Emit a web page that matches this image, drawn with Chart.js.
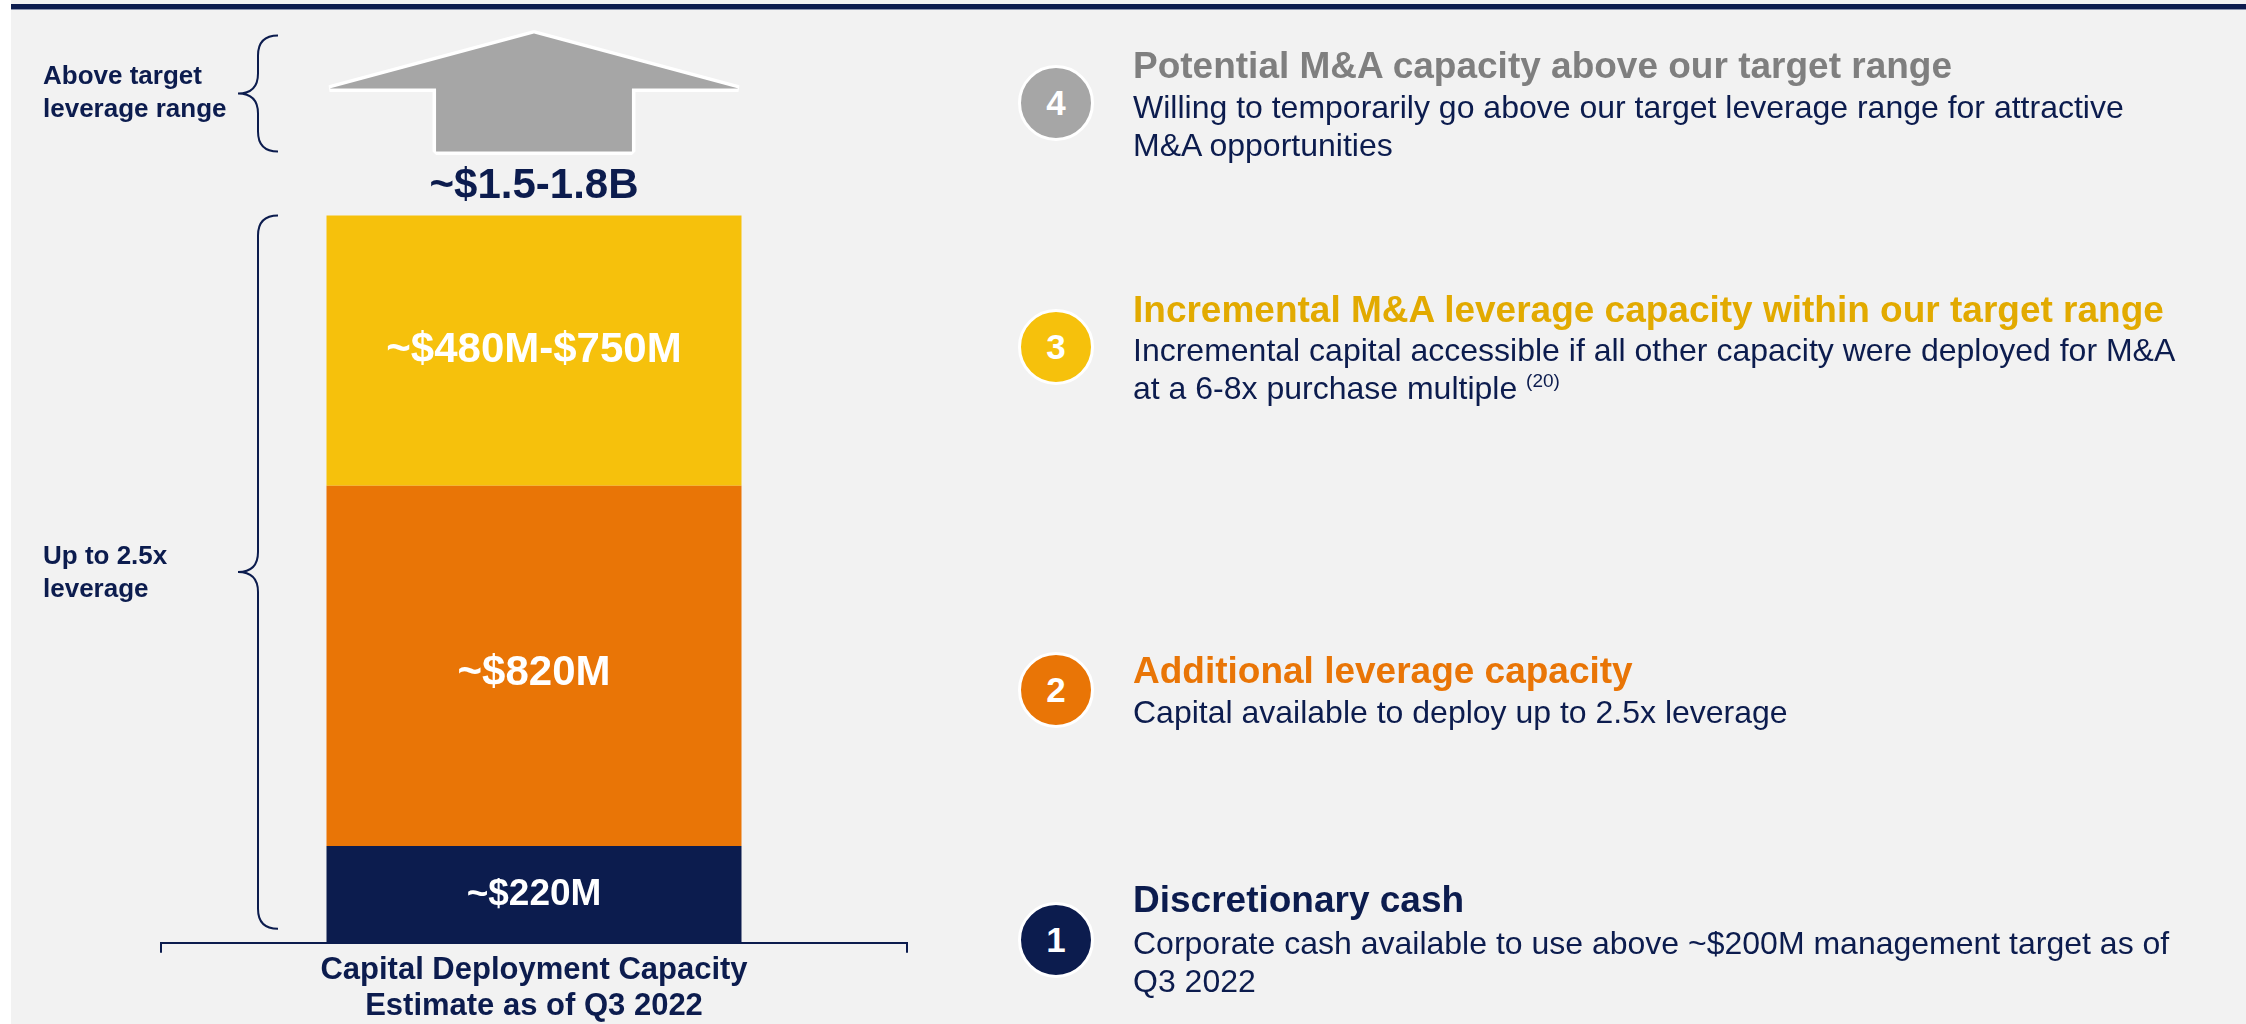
<!DOCTYPE html>
<html lang="en">
<head>
    <meta charset="UTF-8">
    <title>Capital Deployment Capacity</title>
    <script src="https://cdn.jsdelivr.net/npm/chart.js"></script>
    <style>
        body { margin: 0; background: #fff; font-family: "Liberation Sans", Arial, sans-serif; }
        #page { position: relative; width: 2246px; height: 1024px; overflow: hidden; }
        #panel { position: absolute; left: 11px; top: 0; width: 2235px; height: 1024px; background: #f2f2f2; }
        #rule { position: absolute; left: 11px; top: 4px; width: 2235px; height: 5px; background: #0c1c4e; border-bottom: 1px solid #8a93ad; }
        #chartBox { position: absolute; left: 0; top: 0; width: 2246px; height: 1024px; }
        .side { position: absolute; left: 43px; font-weight: bold; font-size: 26px; line-height: 33px; color: #0c1c4e; }
        .dot { position: absolute; left: 1018px; width: 70px; height: 70px; border: 3px solid #fff; border-radius: 50%;
               color: #fff; font-weight: bold; font-size: 35px; line-height: 70px; text-align: center; }
        .ttl { position: absolute; left: 1133px; font-weight: bold; font-size: 37px; line-height: 40px; white-space: nowrap; }
        .dsc { position: absolute; left: 1133px; font-size: 32px; line-height: 38px; color: #0c1c4e; white-space: nowrap; }
        .dsc sup { font-size: 19px; line-height: 0; }
    </style>
</head>
<body>
<div id="page">
    <div id="panel"></div>
    <div id="rule"></div>
    <div id="chartBox"><canvas id="capChart"></canvas></div>
    <div class="side" style="top:59px">Above target<br>leverage range</div>
    <div class="side" style="top:539px">Up to 2.5x<br>leverage</div>
    <div id="notes"></div>
</div>

<script>
    // valeurs (en $M)
    const categories = [['Capital Deployment Capacity', 'Estimate as of Q3 2022']];
    const seriesNames = ['Discretionary cash', 'Additional leverage capacity', 'Incremental M&A leverage capacity within our target range'];
    const seriesValues = [220, 820, 615];
    const valueLabels = ['~$220M', '~$820M', '~$480M-$750M'];
    const totalLabel = '~$1.5-1.8B';
    const aboveName = 'Potential M&A capacity above our target range';
    const descriptions = [
        'Corporate cash available to use above ~$200M management target as of<br>Q3 2022',
        'Capital available to deploy up to 2.5x leverage',
        'Incremental capital accessible if all other capacity were deployed for M&A<br>at a 6-8x purchase multiple <sup>(20)</sup>',
        'Willing to temporarily go above our target leverage range for attractive<br>M&A opportunities'
    ];

    const navy = '#0c1c4e';
    const barColors = [navy, '#e97506', '#f6c10c'];
    const titleColors = [navy, '#e97506', '#e2aa00', '#7f7f7f'];
    const dotColors = [navy, '#e97506', '#f6c10c', '#a6a6a6'];
    const font = '"Liberation Sans", Arial, sans-serif';

    // notes à droite : 1 en bas, 4 en haut
    const rowY = [940, 690, 347, 103];
    const titleTop = [880, 651, 290, 46];
    const descTop = [924, 693, 331, 88];
    const notes = document.getElementById('notes');
    [...seriesNames, aboveName].forEach((name, i) => {
        notes.insertAdjacentHTML('beforeend',
            `<div class="dot" style="top:${rowY[i] - 38}px;background:${dotColors[i]}">${i + 1}</div>
             <div class="ttl" style="top:${titleTop[i]}px;color:${titleColors[i]}">${name}</div>
             <div class="dsc" style="top:${descTop[i]}px">${descriptions[i]}</div>`);
    });

    function brace(ctx, x, y0, y1) {
        const ym = (y0 + y1) / 2, r = 20;
        ctx.beginPath();
        ctx.moveTo(x + 20, y0);
        ctx.quadraticCurveTo(x, y0, x, y0 + r);
        ctx.lineTo(x, ym - r);
        ctx.quadraticCurveTo(x, ym, x - 20, ym);
        ctx.quadraticCurveTo(x, ym, x, ym + r);
        ctx.lineTo(x, y1 - r);
        ctx.quadraticCurveTo(x, y1, x + 20, y1);
        ctx.stroke();
    }

    const decorations = {
        id: 'decorations',
        afterDatasetsDraw(chart) {
            const ctx = chart.ctx;
            ctx.save();
            ctx.textAlign = 'center';
            ctx.textBaseline = 'middle';

            // étiquettes dans les segments
            chart.data.datasets.forEach((ds, i) => {
                const el = chart.getDatasetMeta(i).data[0];
                const h = el.base - el.y;
                ctx.fillStyle = '#fff';
                ctx.font = `bold ${h < 120 ? 37 : 42}px ${font}`;
                ctx.fillText(valueLabels[i], el.x, el.y + h / 2 + (i === 1 ? 8 : 0));
            });

            // flèche au-dessus de la pile
            const top = chart.getDatasetMeta(chart.data.datasets.length - 1).data[0];
            const cx = top.x, half = top.width / 2 - 3, shaft = top.width * 0.236;
            const yBase = top.y - 64, yHead = top.y - 127, yTip = top.y - 182;
            ctx.beginPath();
            ctx.moveTo(cx - shaft, yBase);
            ctx.lineTo(cx - shaft, yHead);
            ctx.lineTo(cx - half, yHead);
            ctx.lineTo(cx, yTip);
            ctx.lineTo(cx + half, yHead);
            ctx.lineTo(cx + shaft, yHead);
            ctx.lineTo(cx + shaft, yBase);
            ctx.closePath();
            ctx.lineJoin = 'bevel';
            ctx.strokeStyle = '#fff';
            ctx.lineWidth = 7;
            ctx.stroke();
            ctx.fillStyle = '#a6a6a6';
            ctx.fill();

            ctx.fillStyle = navy;
            ctx.font = `bold 42px ${font}`;
            ctx.fillText(totalLabel, cx, top.y - 29);

            // accolades à gauche
            ctx.strokeStyle = navy;
            ctx.lineWidth = 2;
            const bx = chart.chartArea.left + 97;
            brace(ctx, bx, yTip + 2, yBase);
            brace(ctx, bx, top.y, chart.chartArea.bottom - 14);
            ctx.restore();
        }
    };

    new Chart(document.getElementById('capChart'), {
        type: 'bar',
        data: {
            labels: categories,
            datasets: seriesNames.map((name, i) => ({
                label: name,
                data: [seriesValues[i]],
                backgroundColor: barColors[i],
                barPercentage: 1,
                categoryPercentage: 415 / 746
            }))
        },
        options: {
            responsive: true,
            maintainAspectRatio: false,
            animation: false,
            layout: { padding: { left: 161, right: 1339, top: 20, bottom: 0 } },
            plugins: { legend: { display: false }, tooltip: { enabled: false } },
            scales: {
                x: {
                    stacked: true,
                    border: { display: true, color: navy, width: 2 },
                    grid: { display: true, drawOnChartArea: false, drawTicks: true, tickLength: 10, color: navy, lineWidth: 2, offset: true },
                    ticks: { color: navy, padding: 0, maxRotation: 0, autoSkip: false,
                             font: { family: font, size: 31, weight: 'bold', lineHeight: 1.15 } }
                },
                y: { stacked: true, display: false, min: 0, max: 2100 }
            }
        },
        plugins: [decorations]
    });
</script>
</body>
</html>
